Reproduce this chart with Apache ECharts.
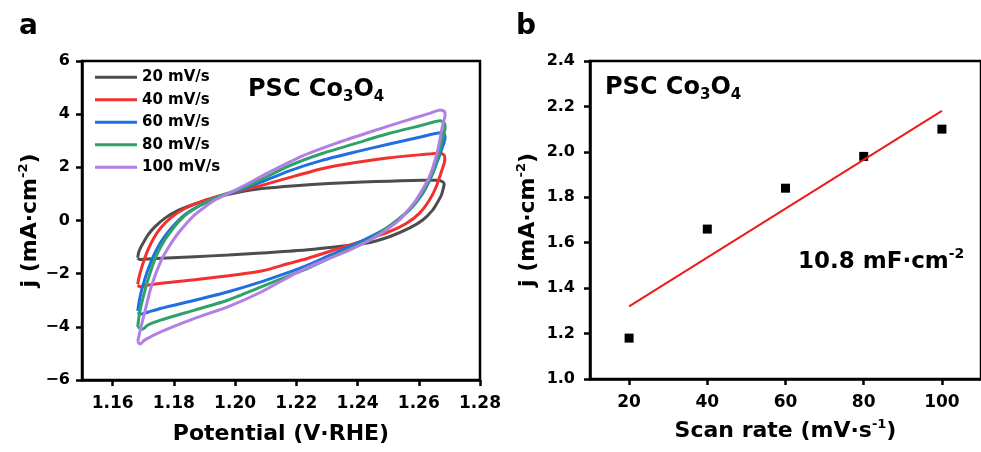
<!DOCTYPE html>
<html><head><meta charset="utf-8">
<script src="https://cdn.jsdelivr.net/npm/echarts@6/dist/echarts.min.js"></script>
<style>html,body{margin:0;padding:0;background:#fff}#c{width:981px;height:452px}</style>
</head><body><div id="c"></div>
<script>
// ---------- Panel a: cyclic voltammograms (potential V vs RHE, j mA/cm2) ----------
const scanLabels = ['20 mV/s', '40 mV/s', '60 mV/s', '80 mV/s', '100 mV/s'];
const cv20 = [
  [1.1682,-1.40],[1.1685,-1.20],[1.1693,-0.98],[1.1704,-0.76],[1.1715,-0.55],[1.1737,-0.25],[1.1770,0.08],
  [1.1814,0.38],[1.1868,0.62],[1.1934,0.86],[1.2011,1.06],[1.2087,1.20],[1.2197,1.31],[1.2306,1.39],
  [1.2416,1.45],[1.2504,1.48],[1.2613,1.51],[1.2660,1.51],[1.2678,1.46],[1.2683,1.36],
  [1.2681,1.25],[1.2674,0.96],[1.2660,0.66],[1.2646,0.40],[1.2613,0.02],[1.2569,-0.29],[1.2504,-0.61],
  [1.2427,-0.86],[1.2339,-0.98],[1.2230,-1.11],[1.2087,-1.22],[1.1978,-1.30],[1.1868,-1.36],[1.1759,-1.42],
  [1.1700,-1.46],[1.1688,-1.47],[1.1682,-1.42]
];
const cv40 = [
  [1.1682,-2.40],[1.1686,-2.15],[1.1693,-1.85],[1.1704,-1.45],[1.1715,-1.11],[1.1737,-0.61],[1.1759,-0.25],
  [1.1792,0.12],[1.1836,0.45],[1.1891,0.72],[1.1957,0.95],[1.2011,1.10],[1.2087,1.32],[1.2197,1.68],
  [1.2284,1.95],[1.2394,2.18],[1.2504,2.36],[1.2613,2.48],[1.2668,2.53],[1.2682,2.47],[1.2685,2.34],
  [1.2684,2.20],[1.2674,1.84],[1.2657,1.27],[1.2635,0.77],[1.2602,0.27],[1.2559,-0.11],[1.2504,-0.42],
  [1.2427,-0.73],[1.2339,-1.05],[1.2230,-1.45],[1.2175,-1.62],[1.2087,-1.90],[1.1978,-2.08],[1.1868,-2.23],
  [1.1759,-2.36],[1.1704,-2.45],[1.1690,-2.50],[1.1682,-2.43]
];
const cv60 = [
  [1.1682,-3.40],[1.1686,-3.10],[1.1693,-2.70],[1.1704,-2.25],[1.1715,-1.86],[1.1737,-1.25],[1.1759,-0.78],
  [1.1792,-0.28],[1.1836,0.22],[1.1891,0.60],[1.1957,0.93],[1.2011,1.13],[1.2087,1.45],[1.2175,1.86],
  [1.2284,2.26],[1.2394,2.58],[1.2504,2.88],[1.2613,3.16],[1.2670,3.30],[1.2683,3.25],[1.2686,3.12],
  [1.2683,2.95],[1.2677,2.75],[1.2668,2.45],[1.2646,1.78],[1.2613,1.02],[1.2569,0.40],[1.2504,-0.23],
  [1.2427,-0.70],[1.2340,-1.15],[1.2230,-1.72],[1.2197,-1.86],[1.2087,-2.30],[1.1978,-2.68],[1.1868,-3.00],
  [1.1759,-3.30],[1.1715,-3.45],[1.1693,-3.52],[1.1682,-3.45]
];
const cv80 = [
  [1.1682,-4.00],[1.1686,-3.62],[1.1693,-3.20],[1.1704,-2.70],[1.1715,-2.24],[1.1737,-1.49],[1.1759,-0.95],
  [1.1792,-0.38],[1.1836,0.18],[1.1891,0.60],[1.1957,0.95],[1.2011,1.16],[1.2087,1.55],[1.2175,2.05],
  [1.2284,2.52],[1.2394,2.90],[1.2504,3.28],[1.2613,3.59],[1.2670,3.75],[1.2683,3.68],[1.2686,3.50],
  [1.2683,3.30],[1.2674,2.90],[1.2657,2.15],[1.2624,1.27],[1.2580,0.52],[1.2515,-0.11],[1.2438,-0.73],
  [1.2339,-1.25],[1.2230,-1.84],[1.2197,-1.98],[1.2087,-2.49],[1.1978,-2.99],[1.1868,-3.37],[1.1759,-3.74],
  [1.1715,-3.93],[1.1698,-4.09],[1.1682,-4.00]
];
const cv100 = [
  [1.1682,-4.56],[1.1688,-4.24],[1.1696,-3.85],[1.1704,-3.49],[1.1726,-2.49],[1.1759,-1.49],[1.1786,-0.95],
  [1.1814,-0.48],[1.1868,0.21],[1.1934,0.77],[1.2011,1.20],[1.2109,1.80],[1.2219,2.42],[1.2329,2.90],
  [1.2438,3.32],[1.2547,3.72],[1.2635,4.03],[1.2670,4.16],[1.2684,4.10],[1.2686,3.95],
  [1.2683,3.80],[1.2677,3.53],[1.2662,2.65],[1.2635,1.65],[1.2591,0.77],[1.2537,0.02],[1.2460,-0.61],
  [1.2372,-1.12],[1.2274,-1.58],[1.2197,-1.99],[1.2087,-2.68],[1.1978,-3.24],[1.1868,-3.68],[1.1759,-4.18],
  [1.1704,-4.50],[1.1690,-4.65],[1.1682,-4.56]
];
const potentialTicks = [1.16, 1.18, 1.20, 1.22, 1.24, 1.26, 1.28];

// ---------- Panel b: current vs scan rate ----------
const scanRates = [20, 40, 60, 80, 100];
const currents = [1.18, 1.66, 1.84, 1.98, 2.10];
const fitRates = [20, 100];
const fitCurrents = [1.32, 2.18];
const scanTicks = [20, 40, 60, 80, 100];

const cvData = [cv20, cv40, cv60, cv80, cv100];
const cvColors = ['#4d4d4d', '#f2302e', '#1f6fe3', '#2fa267', '#b17fe6'];

const FONT = 'DejaVu Sans';
const chart = echarts.init(document.getElementById('c'));

const axisLineStyle = { show: true, onZero: false, lineStyle: { color: '#000', width: 2.5 } };
const tickStyle = (vals) => Object.assign({ show: true, inside: false, length: 6, lineStyle: { color: '#000', width: 2.5 } }, vals ? { customValues: vals } : {});
const labelBase = { color: '#000', fontFamily: FONT, fontWeight: 'bold', fontSize: 16 };
const nameRich = {
  a: { fontFamily: FONT, fontWeight: 'bold', fontSize: 22, color: '#000', lineHeight: 26 },
  s: { fontFamily: FONT, fontWeight: 'bold', fontSize: 13, color: '#000', verticalAlign: 'top', lineHeight: 26 }
};

const series = cvData.map((d, i) => ({
  name: scanLabels[i], type: 'line', xAxisIndex: 0, yAxisIndex: 0,
  data: d, symbol: 'none', smooth: 0.2,
  lineStyle: { color: cvColors[i], width: 3 }, itemStyle: { color: cvColors[i] }
}));
series.push({
  name: 'data', type: 'scatter', xAxisIndex: 1, yAxisIndex: 1,
  data: scanRates.map((x, i) => [x, currents[i]]),
  symbol: 'rect', symbolSize: 9, itemStyle: { color: '#000', opacity: 1 }
});
series.push({
  name: 'fit', type: 'line', xAxisIndex: 1, yAxisIndex: 1,
  data: fitRates.map((x, i) => [x, fitCurrents[i]]),
  symbol: 'none', lineStyle: { color: '#ee1b1b', width: 2 }
});

chart.setOption({
  animation: false,
  backgroundColor: '#fff',
  grid: [
    { left: 82, top: 61, width: 398, height: 319, show: true, borderColor: '#000', borderWidth: 2.5, backgroundColor: 'transparent' },
    { left: 590, top: 61, width: 395, height: 318, show: true, borderColor: '#000', borderWidth: 2.5, backgroundColor: 'transparent' }
  ],
  legend: {
    data: scanLabels, orient: 'vertical', left: 95, top: 69, padding: 0,
    icon: 'rect', itemWidth: 42, itemHeight: 3, itemGap: 6,
    textStyle: { color: '#000', fontFamily: FONT, fontWeight: 'bold', fontSize: 15, lineHeight: 16.5 }
  },
  xAxis: [
    {
      type: 'value', gridIndex: 0, min: 1.15, max: 1.28,
      axisLine: axisLineStyle, axisTick: tickStyle(potentialTicks), splitLine: { show: false },
      axisLabel: Object.assign({}, labelBase, { fontSize: 17, margin: 15, customValues: potentialTicks, formatter: v => v.toFixed(2) }),
      name: 'Potential (V·RHE)', nameLocation: 'middle', nameGap: 43,
      nameTextStyle: { fontFamily: FONT, fontWeight: 'bold', fontSize: 22, color: '#000' }
    },
    {
      type: 'value', gridIndex: 1, min: 10, max: 110,
      axisLine: axisLineStyle, axisTick: tickStyle(scanTicks), splitLine: { show: false },
      axisLabel: Object.assign({}, labelBase, { fontSize: 17, margin: 15, customValues: scanTicks }),
      name: '{a|Scan rate (mV·s}{s|-1}{a|)}', nameLocation: 'middle', nameGap: 39,
      nameTextStyle: { rich: nameRich }
    }
  ],
  yAxis: [
    {
      type: 'value', gridIndex: 0, min: -6, max: 6, interval: 2,
      axisLine: axisLineStyle, axisTick: tickStyle(), splitLine: { show: false },
      axisLabel: Object.assign({}, labelBase, { margin: 12, formatter: v => (v < 0 ? '\u2212' : '') + Math.abs(v) }),
      name: '{a|j (mA·cm}{s|-2}{a|)}', nameLocation: 'middle', nameGap: 39, nameRotate: 90,
      nameTextStyle: { rich: nameRich }
    },
    {
      type: 'value', gridIndex: 1, min: 1.0, max: 2.4, interval: 0.2,
      axisLine: axisLineStyle, axisTick: tickStyle(), splitLine: { show: false },
      axisLabel: Object.assign({}, labelBase, { margin: 15, formatter: v => v.toFixed(1) }),
      name: '{a|j (mA·cm}{s|-2}{a|)}', nameLocation: 'middle', nameGap: 49, nameRotate: 90,
      nameTextStyle: { rich: nameRich }
    }
  ],
  graphic: [
    { type: 'text', left: 19, top: 13, style: { text: 'a', fontFamily: FONT, fontWeight: 'bold', fontSize: 28, fill: '#000' } },
    { type: 'text', left: 516, top: 13, style: { text: 'b', fontFamily: FONT, fontWeight: 'bold', fontSize: 28, fill: '#000' } },
    { type: 'text', left: 248, top: 78, style: {
      text: '{a|PSC Co}{s|3}{a|O}{s|4}',
      rich: { a: { fontFamily: FONT, fontWeight: 'bold', fontSize: 24, fill: '#000', lineHeight: 30 },
              s: { fontFamily: FONT, fontWeight: 'bold', fontSize: 15, fill: '#000', verticalAlign: 'bottom', lineHeight: 30 } } } },
    { type: 'text', left: 605, top: 76, style: {
      text: '{a|PSC Co}{s|3}{a|O}{s|4}',
      rich: { a: { fontFamily: FONT, fontWeight: 'bold', fontSize: 24, fill: '#000', lineHeight: 30 },
              s: { fontFamily: FONT, fontWeight: 'bold', fontSize: 15, fill: '#000', verticalAlign: 'bottom', lineHeight: 30 } } } },
    { type: 'text', left: 798, top: 247, style: {
      text: '{a|10.8 mF·cm}{p|-2}',
      rich: { a: { fontFamily: FONT, fontWeight: 'bold', fontSize: 23, fill: '#000', lineHeight: 30 },
              p: { fontFamily: FONT, fontWeight: 'bold', fontSize: 14, fill: '#000', verticalAlign: 'top', lineHeight: 30 } } } }
  ],
  series: series
});
</script></body></html>
